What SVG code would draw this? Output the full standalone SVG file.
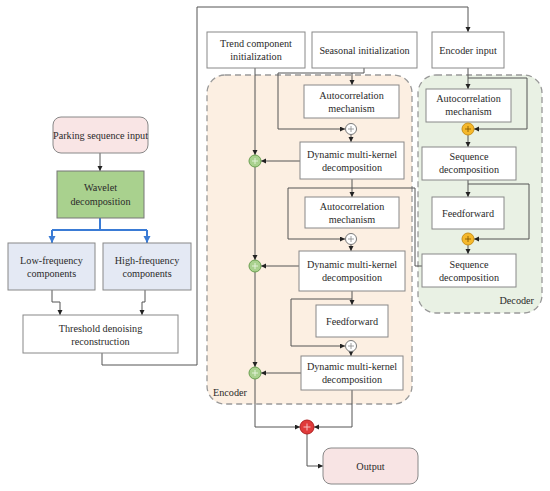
<svg xmlns="http://www.w3.org/2000/svg" width="550" height="491" viewBox="0 0 550 491">
<defs>
<marker id="ar" markerUnits="userSpaceOnUse" markerWidth="6" markerHeight="6" refX="5" refY="2.5" orient="auto"><path d="M0,0 L5,2.5 L0,5 z" fill="#222"/></marker>
<marker id="ab" markerUnits="userSpaceOnUse" markerWidth="8" markerHeight="8" refX="7" refY="3.5" orient="auto"><path d="M0,0 L7,3.5 L0,7 z" fill="#3a7bd5"/></marker>
</defs>
<style>
text{font-family:"Liberation Serif","Times New Roman",serif;font-size:10.2px;fill:#2a2a2a;text-anchor:middle}
.b{fill:#fff;stroke:#888;stroke-width:1}
.c{fill:none;stroke:#555;stroke-width:1}
.ca{fill:none;stroke:#555;stroke-width:1;marker-end:url(#ar)}
.blue{fill:none;stroke:#3a7bd5;stroke-width:2}
.reg{stroke:#999;stroke-width:1.3;stroke-dasharray:6,4}
.pw{stroke:#888;stroke-width:0.8}
</style>
<rect width="550" height="491" fill="#fff"/>

<g id="encoder-region"><rect class="reg" x="207" y="75" width="205" height="329" rx="18" fill="#fcefe2"/><text x="213" y="396" style="text-anchor:start">Encoder</text></g>
<g id="decoder-region"><rect class="reg" x="418" y="75" width="124" height="238" rx="18" fill="#e9f1e4"/><text x="534" y="304" style="text-anchor:end">Decoder</text></g>

<g id="connectors">
<path class="ca" d="M100,153 V171"/>
<path class="blue" d="M100,218 V230 M52,230 H147"/>
<path class="blue" d="M52,230 V243" marker-end="url(#ab)"/>
<path class="blue" d="M147,230 V243" marker-end="url(#ab)"/>
<path class="ca" d="M52,290 V302 H60 V315"/>
<path class="ca" d="M145,290 V302 H142 V315"/>
<path class="ca" d="M102,353 V365 H197 V7 H468 V32"/>
<path class="c" d="M364,68 V73 H278 V129"/>
<path class="ca" d="M278,129 H345"/>
<path class="ca" d="M352,73 V85"/>
<path class="ca" d="M351,134.5 V142"/>
<path class="ca" d="M300,161 H261"/>
<path class="ca" d="M255,68 V155"/>
<path class="ca" d="M255,167 V260"/>
<path class="ca" d="M255,272 V367"/>
<path class="ca" d="M255,379 V427 H300"/>
<path class="ca" d="M352,179 V197"/>
<path class="c" d="M288,188 H415 V266 H422"/>
<path class="ca" d="M288,188 V239 H345"/>
<path class="ca" d="M351,244.5 V251"/>
<path class="ca" d="M299,266 H261"/>
<path class="ca" d="M352,291 V305"/>
<path class="ca" d="M352,299 H291 V346 H345"/>
<path class="ca" d="M351,351.5 V356"/>
<path class="ca" d="M301,373 H261"/>
<path class="ca" d="M352,390 V427 H314"/>
<path class="ca" d="M307,434 V466 H323"/>
<path class="ca" d="M468,68 V89"/>
<path class="ca" d="M468,78 H527 V129 H474"/>
<path class="ca" d="M468,135 V147"/>
<path class="ca" d="M468,180 V197"/>
<path class="ca" d="M468,184 H529 V239 H474"/>
<path class="ca" d="M468,245 V254"/>
</g>

<g id="parking"><rect x="53" y="117" width="95" height="36" rx="8" fill="#f9e5e5" stroke="#888"/><text x="100.5" y="139">Parking sequence input</text></g>
<g id="wavelet"><rect x="57" y="171" width="87" height="47" fill="#a9d18e" stroke="#777"/><text x="100.5" y="191">Wavelet</text><text x="100.5" y="205">decomposition</text></g>
<g id="low"><rect x="8" y="243" width="87" height="47" fill="#e4e9f4" stroke="#888"/><text x="51.5" y="264">Low-frequency</text><text x="51.5" y="277">components</text></g>
<g id="high"><rect x="103" y="243" width="88" height="47" fill="#e4e9f4" stroke="#888"/><text x="147" y="264">High-frequency</text><text x="147" y="277">components</text></g>
<g id="threshold"><rect class="b" x="23" y="315" width="155" height="38"/><text x="100.5" y="332">Threshold denoising</text><text x="100.5" y="345">reconstruction</text></g>

<g id="trend"><rect class="b" x="207" y="32" width="98" height="36"/><text x="256" y="47">Trend component</text><text x="256" y="59.5">initialization</text></g>
<g id="seasonal"><rect class="b" x="312" y="32" width="105" height="36"/><text x="364.5" y="53.5">Seasonal initialization</text></g>
<g id="encoder-input"><rect class="b" x="432" y="32" width="72" height="36"/><text x="468" y="53.5">Encoder input</text></g>

<g id="enc-auto1"><rect class="b" x="304" y="85" width="95" height="33"/><text x="351.5" y="99">Autocorrelation</text><text x="351.5" y="111.5">mechanism</text></g>
<g id="enc-plus1"><circle cx="351" cy="129" r="5.5" fill="#fff" stroke="#777"/><path class="pw" d="M348,129 H354 M351,126 V132"/></g>
<g id="enc-dmk1"><rect class="b" x="300" y="142" width="104" height="37"/><text x="352" y="158">Dynamic multi-kernel</text><text x="352" y="170.5">decomposition</text></g>
<g id="enc-auto2"><rect class="b" x="305" y="197" width="94" height="31"/><text x="352" y="210">Autocorrelation</text><text x="352" y="222.5">mechanism</text></g>
<g id="enc-plus2"><circle cx="351" cy="239" r="5.5" fill="#fff" stroke="#777"/><path class="pw" d="M348,239 H354 M351,236 V242"/></g>
<g id="enc-dmk2"><rect class="b" x="299" y="251" width="106" height="40"/><text x="352" y="268">Dynamic multi-kernel</text><text x="352" y="280.5">decomposition</text></g>
<g id="enc-ff"><rect class="b" x="316" y="305" width="72" height="32"/><text x="352" y="324.5">Feedforward</text></g>
<g id="enc-plus3"><circle cx="351" cy="346" r="5.5" fill="#fff" stroke="#777"/><path class="pw" d="M348,346 H354 M351,343 V349"/></g>
<g id="enc-dmk3"><rect class="b" x="301" y="356" width="102" height="34"/><text x="352" y="370">Dynamic multi-kernel</text><text x="352" y="382.5">decomposition</text></g>

<g id="trend-plus1"><circle cx="255" cy="161" r="6" fill="#a9d18e" stroke="#6a9f50"/><path d="M252,161 H258 M255,158 V164" stroke="#e8f4e0" stroke-width="0.9"/></g>
<g id="trend-plus2"><circle cx="255" cy="266" r="6" fill="#a9d18e" stroke="#6a9f50"/><path d="M252,266 H258 M255,263 V269" stroke="#e8f4e0" stroke-width="0.9"/></g>
<g id="trend-plus3"><circle cx="255" cy="373" r="6" fill="#a9d18e" stroke="#6a9f50"/><path d="M252,373 H258 M255,370 V376" stroke="#e8f4e0" stroke-width="0.9"/></g>
<g id="out-plus"><circle cx="307" cy="427" r="7" fill="#e03a3a" stroke="#b02020"/><path d="M303.5,427 H310.5 M307,423.5 V430.5" stroke="#f6c0c0" stroke-width="1"/></g>
<g id="output"><rect x="323" y="448" width="95" height="36" rx="8" fill="#f8e4e4" stroke="#888"/><text x="370.5" y="469.5">Output</text></g>

<g id="dec-auto"><rect class="b" x="426" y="89" width="85" height="33"/><text x="468.5" y="102">Autocorrelation</text><text x="468.5" y="115">mechanism</text></g>
<g id="dec-plus1"><circle cx="468" cy="129" r="6" fill="#f5b82a" stroke="#c8901a"/><path d="M465,129 H471 M468,126 V132" stroke="#7a5200" stroke-width="0.8"/></g>
<g id="dec-seq1"><rect class="b" x="422" y="147" width="94" height="33"/><text x="469" y="160">Sequence</text><text x="469" y="173">decomposition</text></g>
<g id="dec-ff"><rect class="b" x="432" y="197" width="72" height="32"/><text x="468" y="216.5">Feedforward</text></g>
<g id="dec-plus2"><circle cx="468" cy="239" r="6" fill="#f5b82a" stroke="#c8901a"/><path d="M465,239 H471 M468,236 V242" stroke="#7a5200" stroke-width="0.8"/></g>
<g id="dec-seq2"><rect class="b" x="422" y="254" width="94" height="33"/><text x="469" y="268">Sequence</text><text x="469" y="281">decomposition</text></g>
</svg>
